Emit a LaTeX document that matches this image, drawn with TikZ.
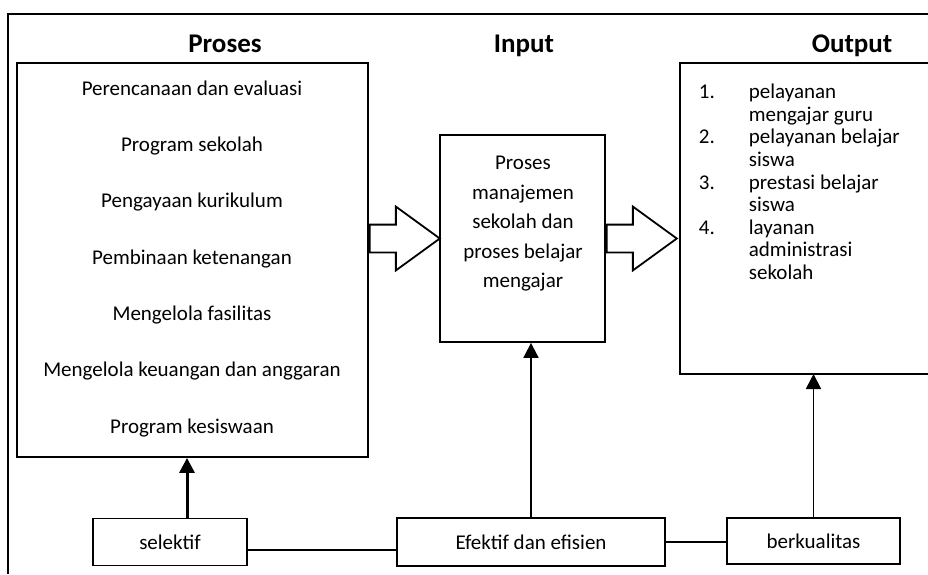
\documentclass[tikz,border=0pt]{standalone}
\usepackage{fontspec}
\setmainfont{Carlito}
\usetikzlibrary{shapes.arrows,arrows.meta}

\begin{document}
\begin{tikzpicture}[x=1pt,y=-1pt, line width=1.8pt,
      every node/.style = {inner sep=0pt, font=\fontsize{21}{22.6}\selectfont},
      box/.style = {draw, rectangle},
      head/.style = {anchor=base, font=\fontsize{27}{30}\selectfont\bfseries},
      item/.style = {anchor=mid},
      blockarrow/.style = {single arrow, draw, fill=white, anchor=tail,
        minimum height=70pt, minimum width=62pt, inner sep=13pt,
        single arrow head extend=18pt, single arrow tip angle=72},
      link/.style = {-{Triangle[width=15pt,length=15pt]}}]
  \useasboundingbox (0,0) rectangle (928,574);
  % outer frame
  \draw (8,574) -- (8,14) -- (928,14);
  \node[head] (hproses) at (225,52) {Proses};
  \node[head] (hinput) at (524,52) {Input};
  \node[head] (houtput) at (852,52) {Output};
  % proses
  \node[box, minimum width=351pt, minimum height=394pt] (proses) at (192.5,260) {};
  \foreach \t [count=\i from 0] in {Perencanaan dan evaluasi, Program sekolah,
      Pengayaan kurikulum, Pembinaan ketenangan, Mengelola fasilitas,
      Mengelola keuangan dan anggaran, Program kesiswaan}
    \node[item] (p\i) at (192, 93+56.3*\i) {\t};
  % input
  \node[box, minimum width=165pt, minimum height=207pt] (mid) at (522.5,238.5) {};
  \node[align=center, font=\fontsize{21}{29.5}\selectfont] (midtext) at (523,224)
    {Proses\\manajemen\\sekolah dan\\proses belajar\\mengajar};
  % output
  \coordinate (otl) at (680,63);
  \coordinate (obl) at (680,374);
  \draw (928,63) -- (otl) -- (obl) -- (928,374);
  \node[anchor=north west] (outlist) at (698,82) {\begin{tabular}{@{}p{50pt}@{}l@{}}
    1. & pelayanan\\ & mengajar guru\\
    2. & pelayanan belajar\\ & siswa\\
    3. & prestasi belajar\\ & siswa\\
    4. & layanan\\ & administrasi\\ & sekolah
  \end{tabular}};
  \node[blockarrow] (arr1) at (proses.east |- mid.center) {};
  \node[blockarrow] (arr2) at (mid.east |- mid.center) {};
  % bottom
  \node[box, minimum width=154pt, minimum height=47pt] (selektif) at (170,542) {selektif};
  \node[box, minimum width=268pt, minimum height=48pt] (efektif) at (531,542) {Efektif dan efisien};
  \node[box, minimum width=173pt, minimum height=46pt] (berkualitas) at (813.5,541) {berkualitas};
  \coordinate (obot) at (813.5,374);
  \draw[link, line width=3pt] ([xshift=17pt]selektif.north) -- ([xshift=17pt]selektif.north |- proses.south);
  \draw[link] (efektif.north) -- (efektif.north |- mid.south);
  \draw[link] (berkualitas.north) -- (obot);
  \draw ([yshift=-8pt]selektif.east) -- ([yshift=-8pt]selektif.east -| efektif.west);
  \draw (efektif.east) -- (berkualitas.west |- efektif.east);
\end{tikzpicture}
\end{document}
